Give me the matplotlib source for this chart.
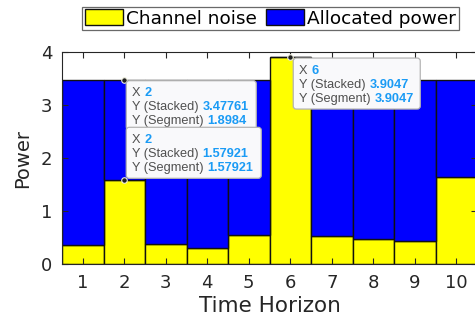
import numpy as np
import matplotlib
matplotlib.use('Agg')
import matplotlib.pyplot as plt
from matplotlib.patches import FancyBboxPatch, Patch
from matplotlib.transforms import IdentityTransform

plt.rcParams['font.family'] = ['DejaVu Sans']

# data
slots = [1, 2, 3, 4, 5, 6, 7, 8, 9, 10]
noise = [0.35, 1.57921, 0.38, 0.31, 0.55, 3.9047, 0.53, 0.48, 0.43, 1.65]
alloc = [3.13, 1.8984, 3.10, 3.17, 2.93, 0.0, 2.95, 3.00, 3.05, 1.83]

# data tips: (x index, which segment, lines)
tips = [
    (2, 'top', [('X ', '2'), ('Y (Stacked) ', '3.47761'), ('Y (Segment) ', '1.8984')]),
    (2, 'low', [('X ', '2'), ('Y (Stacked) ', '1.57921'), ('Y (Segment) ', '1.57921')]),
    (6, 'low', [('X ', '6'), ('Y (Stacked) ', '3.9047'), ('Y (Segment) ', '3.9047')]),
]
stacked_y = {(2, 'top'): 3.47761, (2, 'low'): 1.57921, (6, 'low'): 3.9047}
# box offsets from point in pixels (dx, dy_top, width, height), y measured downward
box_geo = [(2, 1, 130, 49), (2, -53, 135, 51), (3, 1, 127, 51)]

W, H = 475, 320
fig = plt.figure(figsize=(W / 100, H / 100), dpi=100)
ax = fig.add_axes([62 / W, 56 / H, 415 / W, 212 / H])

ax.bar(slots, noise, width=1, color='#ffff00', edgecolor='#111111', linewidth=1, label='Channel noise')
ax.bar(slots, alloc, width=1, bottom=noise, color='#0000ff', edgecolor='#111111', linewidth=1,
       label='Allocated power')

ax.set_xlim(0.5, 10.5)
ax.set_ylim(0, 4)
ax.set_xticks(slots)
ax.set_yticks([0, 1, 2, 3, 4])
ax.tick_params(direction='in', top=True, right=True, length=4, width=0.8,
               labelsize=13, colors='#262626', pad=7)
for s in ax.spines.values():
    s.set_color('#262626')
    s.set_linewidth(0.8)
ax.set_xlabel('Time Horizon', fontsize=15.5, color='#262626', labelpad=3)
ax.set_ylabel('Power', fontsize=14, color='#262626', labelpad=6)

handles = [Patch(facecolor='#ffff00', edgecolor='#111111'), Patch(facecolor='#0000ff', edgecolor='#111111')]
leg = fig.legend(handles, ['Channel noise', 'Allocated power'], loc='center',
                 bbox_to_anchor=(270.5 / W, 1 - 18.5 / H), ncol=2, fontsize=13.3,
                 frameon=True, fancybox=False, edgecolor='#444444', handlelength=2.05,
                 handleheight=0.95, handletextpad=0.2, columnspacing=0.45,
                 borderpad=0.15, borderaxespad=0)
leg.get_frame().set_linewidth(0.9)

renderer = fig.canvas.get_renderer()
tip_font = ['Liberation Sans', 'DejaVu Sans']
z = 10
for (xv, seg, lines), (dx, dyt, bw, bh) in zip(tips, box_geo):
    px, py = ax.transData.transform((xv, stacked_y[(xv, seg)]))
    left = px + dx
    top = py - dyt
    box = FancyBboxPatch((left, top - bh), bw, bh, boxstyle='round,pad=0,rounding_size=3',
                         transform=IdentityTransform(), facecolor='#f9f9fb',
                         edgecolor='#b4b4b4', linewidth=0.9, zorder=z, clip_on=False)
    fig.add_artist(box)
    for i, (lab, val) in enumerate(lines):
        ty = top - 12.5 - i * 14
        t = fig.text(left + 6, ty, lab, transform=IdentityTransform(), fontsize=9.2,
                     family=tip_font, color='#505050', va='center', ha='left', zorder=z + 1)
        w = t.get_window_extent(renderer).width
        fig.text(left + 6 + w, ty, val, transform=IdentityTransform(), fontsize=9.2,
                 family=tip_font, color='#1a9bf5', fontweight='bold', va='center',
                 ha='left', zorder=z + 1)
    ax.plot([xv], [stacked_y[(xv, seg)]], 'o', ms=4, color='#202020', mec='#f0f0e0',
            mew=0.8, zorder=z + 2, clip_on=False)
    z += 3

fig.savefig('out.png', dpi=100)
